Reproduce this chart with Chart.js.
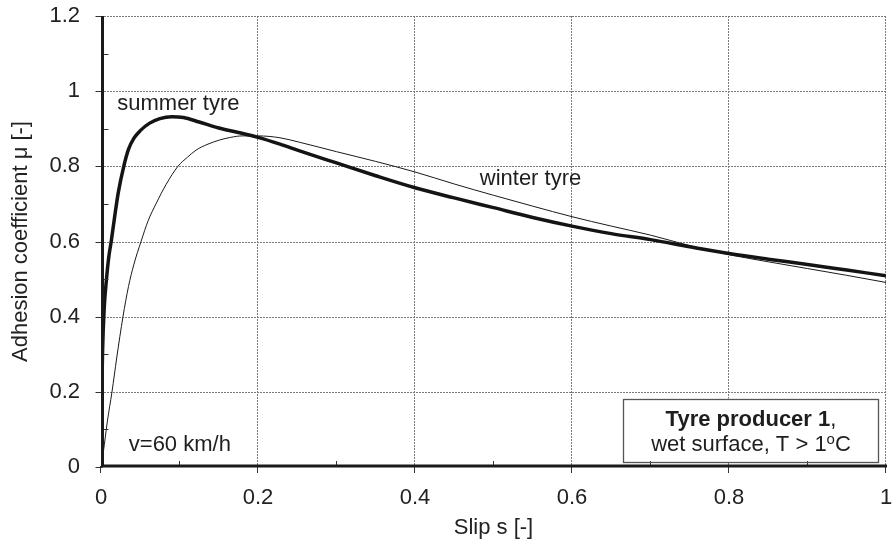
<!DOCTYPE html>
<html>
<head>
<meta charset="utf-8">
<script src="https://cdn.jsdelivr.net/npm/chart.js@4.4.1/dist/chart.umd.min.js"></script>
<style>
  html, body { margin: 0; padding: 0; background: #fff; }
  #wrap { width: 892px; height: 544px; position: relative; }
</style>
</head>
<body>
<div id="wrap"><canvas id="c" width="892" height="544"></canvas></div>
<script>
// ---- data ----
const slipSummer = [0, 0.001, 0.002, 0.004, 0.007, 0.010, 0.013, 0.017, 0.022, 0.029, 0.035, 0.042, 0.050, 0.062, 0.075, 0.090, 0.105, 0.125, 0.150, 0.175, 0.200, 0.228, 0.253, 0.300, 0.350, 0.400, 0.450, 0.500, 0.550, 0.600, 0.650, 0.700, 0.750, 0.800, 0.850, 0.900, 0.950, 1.000];
const muSummer   = [0, 0.20, 0.31, 0.42, 0.50, 0.56, 0.60, 0.66, 0.73, 0.80, 0.845, 0.875, 0.895, 0.915, 0.927, 0.932, 0.930, 0.918, 0.902, 0.890, 0.877, 0.859, 0.841, 0.809, 0.775, 0.743, 0.716, 0.690, 0.664, 0.641, 0.621, 0.605, 0.586, 0.568, 0.553, 0.539, 0.524, 0.509];

const slipWinter = [0, 0.003, 0.008, 0.014, 0.020, 0.028, 0.035, 0.042, 0.051, 0.060, 0.070, 0.083, 0.098, 0.110, 0.121, 0.135, 0.151, 0.165, 0.180, 0.200, 0.228, 0.253, 0.300, 0.350, 0.400, 0.450, 0.500, 0.550, 0.600, 0.650, 0.700, 0.750, 0.800, 0.850, 0.900, 0.950, 1.000];
const muWinter   = [0, 0.04, 0.12, 0.20, 0.29, 0.40, 0.48, 0.54, 0.60, 0.655, 0.70, 0.752, 0.80, 0.824, 0.843, 0.858, 0.870, 0.877, 0.881, 0.881, 0.876, 0.864, 0.839, 0.813, 0.785, 0.753, 0.723, 0.694, 0.666, 0.641, 0.617, 0.589, 0.565, 0.546, 0.528, 0.510, 0.491];

const xMajorTicks = [0, 0.2, 0.4, 0.6, 0.8, 1];
const xMinorTicks = [0.1, 0.3, 0.5, 0.7, 0.9];
const yMajorTicks = [0, 0.2, 0.4, 0.6, 0.8, 1, 1.2];
const yMinorTicks = [0.1, 0.3, 0.5, 0.7, 0.9, 1.1];

const xTitle = 'Slip s [-]';
const yTitle = 'Adhesion coefficient \u03bc [-]';
const labelSummer = 'summer tyre';
const labelWinter = 'winter tyre';
const labelSpeed = 'v=60 km/h';
const boxLine1Bold = 'Tyre producer 1';
const boxLine1Rest = ',';
const boxLine2a = 'wet surface, T > 1';
const boxLine2sup = 'o';
const boxLine2b = 'C';

const FONT = '"Liberation Sans", Arial, sans-serif';
const toPts = (xs, ys) => xs.map((x, i) => ({ x: x, y: ys[i] }));

const decorations = {
  id: 'decorations',
  beforeDatasetsDraw(chart) {
    const { ctx, chartArea: a, scales: { x, y } } = chart;
    ctx.save();
    ctx.strokeStyle = '#7a7a7a';
    ctx.lineWidth = 1;
    ctx.setLineDash([2, 1]);
    xMajorTicks.forEach(v => {
      if (v === 0) return;
      const px = Math.round(x.getPixelForValue(v)) - 0.5;
      ctx.beginPath(); ctx.moveTo(px, a.top); ctx.lineTo(px, a.bottom); ctx.stroke();
    });
    yMajorTicks.forEach(v => {
      if (v === 0) return;
      const py = Math.round(y.getPixelForValue(v)) + 0.5;
      ctx.beginPath(); ctx.moveTo(a.left, py); ctx.lineTo(a.right, py); ctx.stroke();
    });
    ctx.setLineDash([]);
    const bx0 = x.getPixelForValue(0.665), bx1 = x.getPixelForValue(0.990);
    const by0 = y.getPixelForValue(0.182), by1 = y.getPixelForValue(0.013);
    ctx.fillStyle = '#fff';
    ctx.fillRect(bx0, by0, bx1 - bx0, by1 - by0);
    ctx.restore();
  },
  afterDatasetsDraw(chart) {
    const { ctx, chartArea: a, scales: { x, y } } = chart;
    ctx.save();
    ctx.strokeStyle = '#333';
    ctx.lineWidth = 1;
    const x0 = a.left + 1.5, yb = a.bottom - 1;
    xMinorTicks.forEach(v => {
      const px = Math.round(x.getPixelForValue(v)) - 0.5;
      ctx.beginPath(); ctx.moveTo(px, yb); ctx.lineTo(px, yb - 5); ctx.stroke();
    });
    xMajorTicks.forEach(v => {
      const px = Math.round(x.getPixelForValue(v)) - 0.5;
      ctx.beginPath(); ctx.moveTo(px, yb); ctx.lineTo(px, yb + 7); ctx.stroke();
    });
    yMinorTicks.forEach(v => {
      const py = Math.round(y.getPixelForValue(v)) + 0.5;
      ctx.beginPath(); ctx.moveTo(x0, py); ctx.lineTo(x0 + 6, py); ctx.stroke();
    });
    yMajorTicks.forEach(v => {
      const py = Math.round(y.getPixelForValue(v)) + 0.5;
      ctx.beginPath(); ctx.moveTo(x0, py); ctx.lineTo(x0 - 7, py); ctx.stroke();
    });
    ctx.strokeStyle = '#1a1a1a';
    ctx.lineWidth = 3;
    ctx.beginPath();
    ctx.moveTo(x0, a.top);
    ctx.lineTo(x0, yb);
    ctx.lineTo(a.right + 1, yb);
    ctx.stroke();

    const bx0 = Math.round(x.getPixelForValue(0.665)) + 0.5, bx1 = Math.round(x.getPixelForValue(0.990)) + 0.5;
    const by0 = Math.round(y.getPixelForValue(0.182)) + 0.5, by1 = Math.round(y.getPixelForValue(0.013)) + 0.5;
    ctx.lineWidth = 1.3;
    ctx.strokeStyle = '#555';
    ctx.strokeRect(bx0, by0, bx1 - bx0, by1 - by0);

    ctx.fillStyle = '#1e1e1e';
    ctx.textBaseline = 'alphabetic';
    ctx.textAlign = 'left';
    ctx.font = '22px ' + FONT;
    ctx.fillText(labelSummer, x.getPixelForValue(0.0207), y.getPixelForValue(0.950));
    ctx.fillText(labelWinter, x.getPixelForValue(0.4825), y.getPixelForValue(0.750));
    ctx.fillText(labelSpeed, x.getPixelForValue(0.0354), y.getPixelForValue(0.043));

    const cx = (bx0 + bx1) / 2;
    ctx.font = 'bold 22px ' + FONT;
    const w1a = ctx.measureText(boxLine1Bold).width;
    ctx.font = '22px ' + FONT;
    const w1b = ctx.measureText(boxLine1Rest).width;
    let sx = cx - (w1a + w1b) / 2;
    const base1 = y.getPixelForValue(0.110);
    ctx.font = 'bold 22px ' + FONT;
    ctx.fillText(boxLine1Bold, sx, base1);
    ctx.font = '22px ' + FONT;
    ctx.fillText(boxLine1Rest, sx + w1a, base1);
    const base2 = y.getPixelForValue(0.042);
    ctx.font = '22px ' + FONT;
    const w2a = ctx.measureText(boxLine2a).width;
    const w2c = ctx.measureText(boxLine2b).width;
    ctx.font = '15px ' + FONT;
    const w2b = ctx.measureText(boxLine2sup).width;
    sx = cx - (w2a + w2b + w2c) / 2;
    ctx.font = '22px ' + FONT;
    ctx.fillText(boxLine2a, sx, base2);
    ctx.font = '15px ' + FONT;
    ctx.fillText(boxLine2sup, sx + w2a, base2 - 7);
    ctx.font = '22px ' + FONT;
    ctx.fillText(boxLine2b, sx + w2a + w2b, base2);
    ctx.restore();
  }
};

new Chart(document.getElementById('c'), {
  type: 'line',
  data: {
    datasets: [
      {
        label: labelSummer,
        data: toPts(slipSummer, muSummer),
        borderColor: '#141414',
        borderWidth: 3.5,
        pointRadius: 0,
        fill: false,
        cubicInterpolationMode: 'monotone'
      },
      {
        label: labelWinter,
        data: toPts(slipWinter, muWinter),
        borderColor: '#1a1a1a',
        borderWidth: 1,
        pointRadius: 0,
        fill: false,
        cubicInterpolationMode: 'monotone'
      }
    ]
  },
  options: {
    responsive: false,
    animation: false,
    devicePixelRatio: 1,
    layout: { padding: { top: 16, right: 6, left: 0, bottom: 0 } },
    plugins: { legend: { display: false }, tooltip: { enabled: false } },
    scales: {
      x: {
        type: 'linear',
        min: 0, max: 1,
        afterFit(s) { s.height = 77; s.paddingLeft = 0; s.paddingRight = 0; },
        afterBuildTicks(s) { s.ticks = xMajorTicks.map(v => ({ value: v })); },
        grid: { display: false, drawTicks: false, tickLength: 0 },
        border: { display: false },
        ticks: {
          padding: 18,
          color: '#222',
          font: { family: FONT, size: 22 },
          maxRotation: 0,
          callback: v => String(Math.round(v * 10) / 10)
        },
        title: {
          display: true,
          text: xTitle,
          color: '#222',
          font: { family: FONT, size: 22 },
          padding: { top: 0, bottom: 3 }
        }
      },
      y: {
        type: 'linear',
        min: 0, max: 1.2,
        afterFit(s) { s.width = 101; s.paddingTop = 0; s.paddingBottom = 0; },
        afterBuildTicks(s) { s.ticks = yMajorTicks.map(v => ({ value: v })); },
        grid: { display: false, drawTicks: false, tickLength: 0 },
        border: { display: false },
        ticks: {
          padding: 21,
          color: '#222',
          font: { family: FONT, size: 22 },
          callback: v => String(Math.round(v * 10) / 10)
        },
        title: {
          display: true,
          text: yTitle,
          color: '#222',
          font: { family: FONT, size: 22 },
          padding: { top: 8, bottom: 0 }
        }
      }
    }
  },
  plugins: [decorations]
});
</script>
</body>
</html>
